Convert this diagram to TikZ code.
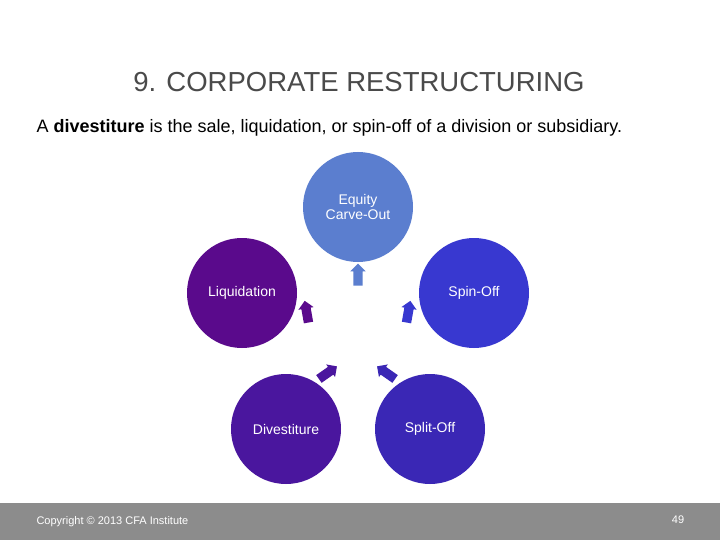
\documentclass[tikz,border=0pt]{standalone}
\usepackage{fontspec}
\setmainfont{Liberation Sans}
\usetikzlibrary{shapes.arrows}
\begin{document}
\begin{tikzpicture}[x=1pt,y=-1pt,
  circ/.style={circle,minimum size=110pt,inner sep=0pt,text=white,font=\fontsize{14}{15}\selectfont,align=center},
  arr/.style={single arrow,minimum height=22pt,inner sep=4.5pt,single arrow head extend=3pt}]
\useasboundingbox (0,0) rectangle (720,540);
\fill[white] (0,0) rectangle (720,540);
\node (title) at (359,82) {\fontsize{27.5}{30}\selectfont\color[HTML]{4A4A4A}9. CORPORATE RESTRUCTURING};
\node[anchor=west] (sub) at (33,128) {\fontsize{18}{20}\selectfont A \textbf{divestiture} is the sale, liquidation, or spin-off of a division or subsidiary.};
\definecolor{ceq}{HTML}{5B7ECF}
\definecolor{cliq}{HTML}{5A0A8C}
\definecolor{cspin}{HTML}{3838D0}
\definecolor{cdiv}{HTML}{4A169E}
\definecolor{csplit}{HTML}{3A27B5}
\node[circ,fill=ceq] (eq) at (358,207) {Equity\\Carve-Out};
\node[circ,fill=cliq] (liq) at (242,293) {Liquidation};
\node[circ,fill=cspin] (spin) at (474,293) {Spin-Off};
\node[circ,fill=cdiv] (div) at (286,429) {Divestiture};
\node[circ,fill=csplit] (split) at (430,429) {Split-Off};
\node[arr,fill=ceq,rotate=90] (a1) at (358,277) {};
\node[arr,fill=cliq,rotate=100] (a2) at (307,314) {};
\node[arr,fill=cspin,rotate=80] (a3) at (408,314) {};
\node[arr,fill=cdiv,rotate=35] (a4) at (326,374) {};
\node[arr,fill=csplit,rotate=145] (a5) at (388,374) {};
\fill[fill={rgb,255:red,140;green,140;blue,140}] (0,503) rectangle (720,540);
\node[anchor=west,text=white,font=\fontsize{11}{12}\selectfont] (copy) at (33,522) {Copyright © 2013 CFA Institute};
\node[text=white,font=\fontsize{11}{12}\selectfont] (pg) at (678,520) {49};
\end{tikzpicture}
\end{document}
